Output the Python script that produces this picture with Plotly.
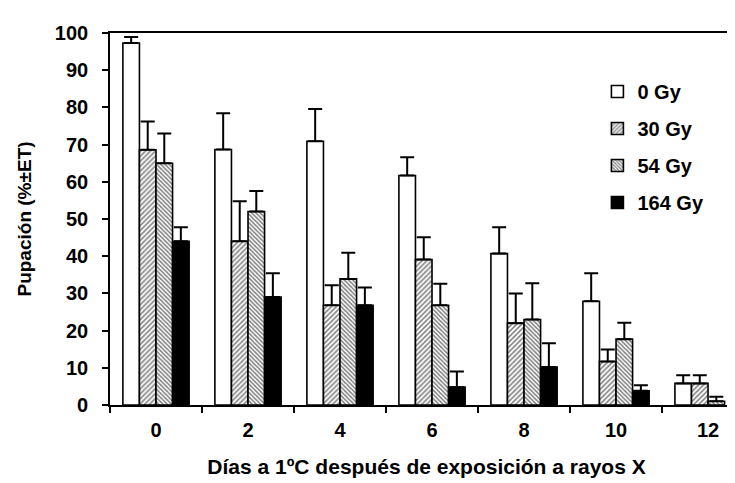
import plotly.graph_objects as go

days = ["0", "2", "4", "6", "8", "10", "12"]
series_names = ["0 Gy", "30 Gy", "54 Gy", "164 Gy"]
mean_0 = [97.3, 68.7, 70.9, 61.7, 40.7, 27.9, 5.8]
err_0 = [1.6, 9.7, 8.7, 4.9, 7.1, 7.5, 2.2]
mean_30 = [68.6, 44.0, 26.8, 39.1, 22.0, 11.7, 5.8]
err_30 = [7.6, 10.8, 5.4, 6.0, 8.0, 3.2, 2.2]
mean_54 = [65.0, 52.0, 33.9, 26.8, 23.0, 17.7, 1.0]
err_54 = [8.0, 5.5, 7.0, 5.8, 9.7, 4.4, 1.2]
mean_164 = [44.0, 29.0, 26.8, 4.8, 10.2, 3.8, None]
err_164 = [3.8, 6.4, 4.8, 4.2, 6.4, 1.5, None]

means = [mean_0, mean_30, mean_54, mean_164]
errs = [err_0, err_30, err_54, err_164]
fills = ["white", "white", "white", "black"]
patterns = [None, dict(shape="/", size=3.5, solidity=0.45, fgcolor="black", bgcolor="white"),
            dict(shape="\\", size=3, solidity=0.5, fgcolor="black", bgcolor="white"), None]

fig = go.Figure()
for i, name in enumerate(series_names):
    marker = dict(color=fills[i], line=dict(color="black", width=1.6))
    if patterns[i]:
        marker["pattern"] = patterns[i]
    fig.add_trace(go.Bar(
        x=days, y=means[i], name=name, legendgroup=name, marker=marker,
        error_y=dict(type="data", symmetric=False, array=errs[i],
                     arrayminus=[0 if e is not None else None for e in errs[i]],
                     color="black", thickness=2, width=7),
    ))

fontfam = "Liberation Sans, Arial, sans-serif"
fig.update_layout(
    width=735, height=483,
    margin=dict(l=102, r=0, t=25, b=86),
    plot_bgcolor="white", paper_bgcolor="white",
    barmode="group", bargap=0.28, bargroupgap=0,
    font=dict(family=fontfam, size=20, color="black"),
    showlegend=True,
    legend=dict(x=0.77, y=0.895, xanchor="left", yanchor="top",
                font=dict(size=20, family=fontfam, weight="bold"),
                tracegroupgap=8, bgcolor="rgba(0,0,0,0)", itemwidth=30),
    xaxis=dict(type="category", range=[-0.5, 6.38], tickson="boundaries",
               ticks="outside", ticklen=6, tickwidth=1.5, tickcolor="black",
               showline=True, linecolor="black", linewidth=1.6, mirror=True,
               showgrid=False, ticklabelstandoff=6,
               tickfont=dict(size=20, family=fontfam, weight="bold"),
               title=dict(text="Días a 1ºC después de exposición a rayos X",
                          font=dict(size=21, family=fontfam, weight="bold"), standoff=20)),
    yaxis=dict(range=[0, 100], dtick=10, ticks="outside", ticklen=6, tickwidth=1.5,
               tickcolor="black", showline=True, linecolor="black", linewidth=1.6,
               showgrid=False, zeroline=False, ticklabelstandoff=10,
               tickfont=dict(size=20, family=fontfam, weight="bold"),
               title=dict(text="Pupación (%±ET)",
                          font=dict(size=19, family=fontfam, weight="bold"), standoff=18)),
)

fig.write_html("out.html")
